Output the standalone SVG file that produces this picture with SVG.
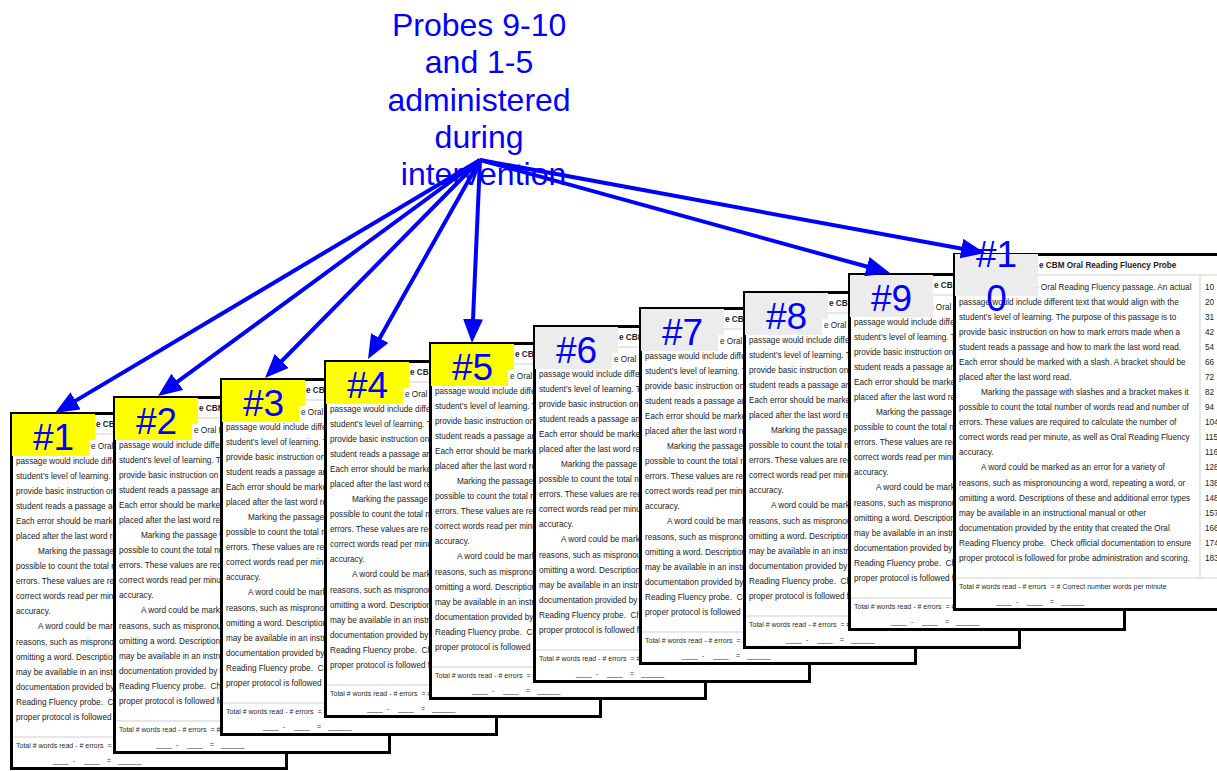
<svg xmlns="http://www.w3.org/2000/svg" xmlns:xlink="http://www.w3.org/1999/xlink" width="1217" height="771" viewBox="0 0 1217 771">
  <style>
    .paper { fill: #ffffff; stroke: #000000; stroke-width: 3; }
    .rule { stroke: #cfcfcf; stroke-width: 1; }
    .title { font-family: "Liberation Sans", Arial, sans-serif; font-size: 8.2px; font-weight: bold; fill: #1e1e1e; }
    .body { font-family: "Liberation Sans", Arial, sans-serif; font-size: 8.2px; fill: #222222; }
    .num { font-family: "Liberation Sans", Arial, sans-serif; font-size: 8.2px; fill: #222222; }
    .foot { font-family: "Liberation Sans", Arial, sans-serif; font-size: 7px; fill: #2a2a2a; }
    .tag-y { fill: #ffff00; }
    .tag-g { fill: #ececec; }
    .tag { font-family: "Liberation Sans", Arial, sans-serif; font-size: 37px; fill: #0000ff; text-anchor: middle; }
    .caption { font-family: "Liberation Sans", Arial, sans-serif; font-size: 32px; fill: #0000ff; text-anchor: middle; }
    .arrow { stroke: #0000ff; stroke-width: 4; fill: none; marker-end: url(#head); }
  </style>
  <defs>
    <marker id="head" viewBox="0 0 24 20" refX="12" refY="10" markerWidth="24" markerHeight="20" markerUnits="userSpaceOnUse" orient="auto">
      <path d="M0,0 L24,10 L0,20 Z" fill="#0000ff"/>
    </marker>
    <!-- label patch with a small step at the lower right -->
    <path id="tab-notched" d="M2,2 H85 V28 H79 V44 H2 Z"/>
    <rect id="tab-full" x="2" y="2" width="83" height="42"/>
    <!-- one probe sheet: bordered page with passage, word counts and scoring line -->
    <g id="sheet">
      <rect class="paper" x="1.5" y="1.5" width="275" height="355"/>
      <line class="rule" x1="3" y1="22" x2="275" y2="22"/>
      <line class="rule" x1="247" y1="22" x2="247" y2="325"/>
      <line class="rule" x1="3" y1="325" x2="275" y2="325"/>
      <text class="title" x="86" y="14.5">e CBM Oral Reading Fluency Probe</text>
      <text class="body">
        <tspan x="81" y="37">e Oral Reading Fluency passage. An actual</tspan>
        <tspan x="6" y="52.04">passage would include different text that would align with the</tspan>
        <tspan x="6" y="67.08">student’s level of learning. The purpose of this passage is to</tspan>
        <tspan x="6" y="82.12">provide basic instruction on how to mark errors made when a</tspan>
        <tspan x="6" y="97.16">student reads a passage and how to mark the last word read.</tspan>
        <tspan x="6" y="112.2">Each error should be marked with a slash. A bracket should be</tspan>
        <tspan x="6" y="127.24">placed after the last word read.</tspan>
        <tspan x="28" y="142.28">Marking the passage with slashes and a bracket makes it</tspan>
        <tspan x="6" y="157.32">possible to count the total number of words read and number of</tspan>
        <tspan x="6" y="172.36">errors. These values are required to calculate the number of</tspan>
        <tspan x="6" y="187.4">correct words read per minute, as well as Oral Reading Fluency</tspan>
        <tspan x="6" y="202.44">accuracy.</tspan>
        <tspan x="28" y="217.48">A word could be marked as an error for a variety of</tspan>
        <tspan x="6" y="232.52">reasons, such as mispronouncing a word, repeating a word, or</tspan>
        <tspan x="6" y="247.56">omitting a word. Descriptions of these and additional error types</tspan>
        <tspan x="6" y="262.6">may be available in an instructional manual or other</tspan>
        <tspan x="6" y="277.64">documentation provided by the entity that created the Oral</tspan>
        <tspan x="6" y="292.68">Reading Fluency probe.&#160; Check official documentation to ensure</tspan>
        <tspan x="6" y="307.72">proper protocol is followed for probe administration and scoring.</tspan>
      </text>
      <text class="num">
        <tspan x="252" y="37">10</tspan>
        <tspan x="252" y="52.04">20</tspan>
        <tspan x="252" y="67.08">31</tspan>
        <tspan x="252" y="82.12">42</tspan>
        <tspan x="252" y="97.16">54</tspan>
        <tspan x="252" y="112.2">66</tspan>
        <tspan x="252" y="127.24">72</tspan>
        <tspan x="252" y="142.28">82</tspan>
        <tspan x="252" y="157.32">94</tspan>
        <tspan x="252" y="172.36">104</tspan>
        <tspan x="252" y="187.4">115</tspan>
        <tspan x="252" y="202.44">116</tspan>
        <tspan x="252" y="217.48">128</tspan>
        <tspan x="252" y="232.52">138</tspan>
        <tspan x="252" y="247.56">148</tspan>
        <tspan x="252" y="262.6">157</tspan>
        <tspan x="252" y="277.64">166</tspan>
        <tspan x="252" y="292.68">174</tspan>
        <tspan x="252" y="307.72">183</tspan>
      </text>
      <text class="foot" x="6" y="336">Total # words read - # errors&#160; = # Correct number words per minute</text>
      <text class="foot" y="350.5"><tspan x="43">____</tspan><tspan x="63">-</tspan><tspan x="74">____</tspan><tspan x="97">=</tspan><tspan x="108">______</tspan></text>
    </g>
  </defs>

  <!-- stack of probe sheets, back to front -->
  <g id="probe-1" transform="translate(10,412)">
    <use href="#sheet" xlink:href="#sheet"/>
    <use class="tag-y" href="#tab-notched" xlink:href="#tab-notched"/>
    <text class="tag" x="43.5" y="37.5">#1</text>
  </g>
  <g id="probe-2" transform="translate(113,396)">
    <use href="#sheet" xlink:href="#sheet"/>
    <use class="tag-y" href="#tab-notched" xlink:href="#tab-notched"/>
    <text class="tag" x="43.5" y="37.5">#2</text>
  </g>
  <g id="probe-3" transform="translate(220,378)">
    <use href="#sheet" xlink:href="#sheet"/>
    <use class="tag-y" href="#tab-notched" xlink:href="#tab-notched"/>
    <text class="tag" x="43.5" y="37.5">#3</text>
  </g>
  <g id="probe-4" transform="translate(324,360)">
    <use href="#sheet" xlink:href="#sheet"/>
    <use class="tag-y" href="#tab-notched" xlink:href="#tab-notched"/>
    <text class="tag" x="43.5" y="37.5">#4</text>
  </g>
  <g id="probe-5" transform="translate(429,342)">
    <use href="#sheet" xlink:href="#sheet"/>
    <use class="tag-y" href="#tab-notched" xlink:href="#tab-notched"/>
    <text class="tag" x="43.5" y="37.5">#5</text>
  </g>
  <g id="probe-6" transform="translate(533,325)">
    <use href="#sheet" xlink:href="#sheet"/>
    <use class="tag-g" href="#tab-notched" xlink:href="#tab-notched"/>
    <text class="tag" x="43.5" y="37.5">#6</text>
  </g>
  <g id="probe-7" transform="translate(639,307)">
    <use href="#sheet" xlink:href="#sheet"/>
    <use class="tag-g" href="#tab-notched" xlink:href="#tab-notched"/>
    <text class="tag" x="43.5" y="37.5">#7</text>
  </g>
  <g id="probe-8" transform="translate(743,291)">
    <use href="#sheet" xlink:href="#sheet"/>
    <use class="tag-g" href="#tab-notched" xlink:href="#tab-notched"/>
    <text class="tag" x="43.5" y="37.5">#8</text>
  </g>
  <g id="probe-9" transform="translate(848,273)">
    <use href="#sheet" xlink:href="#sheet"/>
    <use class="tag-g" href="#tab-full" xlink:href="#tab-full"/>
    <text class="tag" x="43.5" y="37.5">#9</text>
  </g>
  <g id="probe-10" transform="translate(953,253)">
    <use href="#sheet" xlink:href="#sheet"/>
    <use class="tag-g" href="#tab-full" xlink:href="#tab-full" y="-1"/>
    <text class="tag"><tspan x="43.5" y="14">#1</tspan><tspan x="43.5" y="58">0</tspan></text>
  </g>

  <!-- caption above the stack -->
  <g id="caption">
    <text class="caption">
      <tspan x="483.5" y="36">Probes 9-10</tspan>
      <tspan x="483.5" y="73.3">and 1-5</tspan>
      <tspan x="483.5" y="110.6">administered</tspan>
      <tspan x="483.5" y="147.9">during</tspan>
      <tspan x="483.5" y="185.2">intervention</tspan>
    </text>
  </g>

  <!-- arrows from the caption to the probes given during intervention -->
  <g id="connectors">
    <line class="arrow" x1="480" y1="160" x2="65.3" y2="406.9"/>
    <line class="arrow" x1="480" y1="160" x2="167.7" y2="388.9"/>
    <line class="arrow" x1="480" y1="160" x2="273.4" y2="369.5"/>
    <line class="arrow" x1="480" y1="160" x2="373.9" y2="348.5"/>
    <line class="arrow" x1="480" y1="160" x2="472.5" y2="331.0"/>
    <line class="arrow" x1="480" y1="160" x2="878.4" y2="269.8"/>
    <line class="arrow" x1="480" y1="160" x2="973.2" y2="250.8"/>
  </g>
</svg>
